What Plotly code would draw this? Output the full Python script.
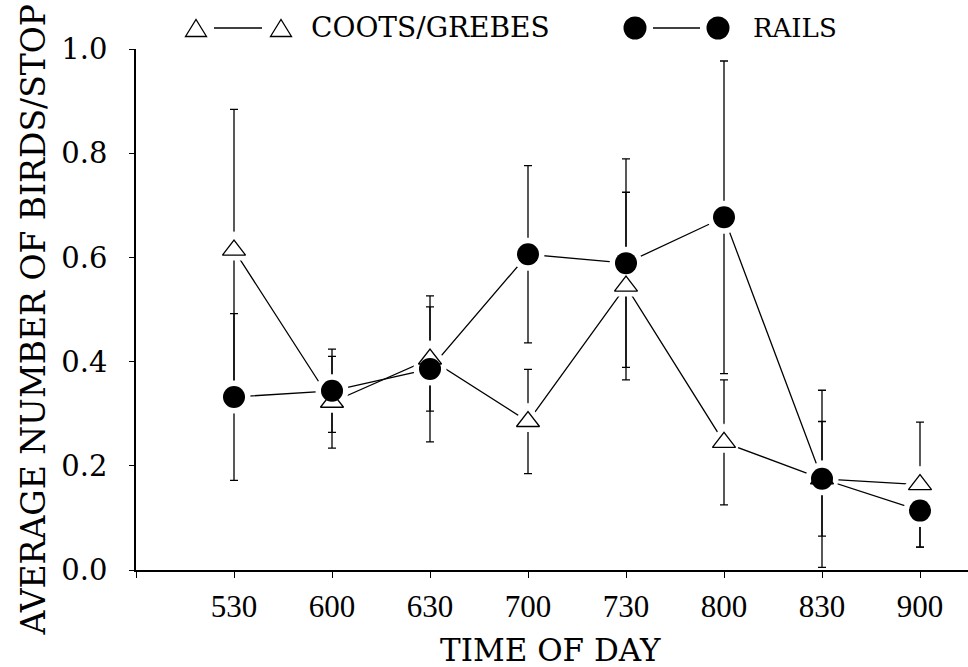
import plotly.graph_objects as go

# ---- data ----
times = ["530", "600", "630", "700", "730", "800", "830", "900"]
coots = [0.614, 0.322, 0.405, 0.285, 0.545, 0.245, 0.175, 0.164]
coots_err = [0.27, 0.088, 0.10, 0.10, 0.18, 0.12, 0.11, 0.12]
rails = [0.332, 0.344, 0.386, 0.606, 0.589, 0.677, 0.175, 0.114]
rails_err = [0.16, 0.08, 0.14, 0.17, 0.20, 0.30, 0.17, 0.07]
y_ticks = [0.0, 0.2, 0.4, 0.6, 0.8, 1.0]

xpos = list(range(1, len(times) + 1))

W, H = 968, 667
L, R, T, B = 136, 0, 49, 97
FONT = "Liberation Serif"
TFONT = "DejaVu Serif"
LW = 1.3

fig = go.Figure()

err_style = dict(type="data", visible=True, thickness=LW, width=4, color="black")

# lines + error bars
fig.add_trace(go.Scatter(x=xpos, y=coots, mode="lines",
                         line=dict(color="black", width=LW),
                         error_y=dict(array=coots_err, **err_style),
                         showlegend=False, hoverinfo="skip"))
fig.add_trace(go.Scatter(x=xpos, y=rails, mode="lines",
                         line=dict(color="black", width=LW),
                         error_y=dict(array=rails_err, **err_style),
                         showlegend=False, hoverinfo="skip"))

# white halos to create gaps around markers
fig.add_trace(go.Scatter(x=xpos, y=coots, mode="markers",
                         marker=dict(symbol="triangle-up", size=20, color="white",
                                     line=dict(color="white", width=11)),
                         showlegend=False, hoverinfo="skip"))
fig.add_trace(go.Scatter(x=xpos, y=rails, mode="markers",
                         marker=dict(symbol="circle", size=22, color="white",
                                     line=dict(color="white", width=11)),
                         showlegend=False, hoverinfo="skip"))

# markers
fig.add_trace(go.Scatter(x=xpos, y=coots, mode="markers", name="COOTS/GREBES",
                         marker=dict(symbol="triangle-up", size=20, color="white",
                                     line=dict(color="black", width=1.3)),
                         showlegend=False))
fig.add_trace(go.Scatter(x=xpos, y=rails, mode="markers", name="RAILS",
                         marker=dict(symbol="circle", size=22, color="black",
                                     line=dict(color="black", width=0)),
                         showlegend=False))

# ---- custom legend (pixel -> paper helpers) ----
def px(xp):
    return (xp - L) / (W - L - R)

def py(yp):
    return (H - B - yp) / (H - B - T)

shapes = []
ly = 28

def tri(cx, cy, w=21, h=17):
    return dict(type="path", xref="paper", yref="paper",
                path=f"M {px(cx - w/2)} {py(cy + h/2)} L {px(cx + w/2)} {py(cy + h/2)} L {px(cx)} {py(cy - h/2)} Z",
                line=dict(color="black", width=1.3), fillcolor="white")

def circ(cx, cy, r=11.5):
    return dict(type="circle", xref="paper", yref="paper",
                x0=px(cx - r), x1=px(cx + r), y0=py(cy + r), y1=py(cy - r),
                line=dict(color="black", width=0), fillcolor="black")

def hline(x0, x1, y):
    return dict(type="line", xref="paper", yref="paper",
                x0=px(x0), x1=px(x1), y0=py(y), y1=py(y),
                line=dict(color="black", width=LW))

shapes += [tri(196, ly), hline(214, 262, ly), tri(281, ly),
           circ(635, ly), hline(653, 700, ly), circ(718, ly)]

annotations = [
    dict(text="COOTS/GREBES", x=px(309), y=py(ly), xref="paper", yref="paper",
         xanchor="left", yanchor="middle", showarrow=False,
         font=dict(family=TFONT, size=28, color="black")),
    dict(text="RAILS", x=px(751), y=py(ly), xref="paper", yref="paper",
         xanchor="left", yanchor="middle", showarrow=False,
         font=dict(family=TFONT, size=26, color="black")),
    dict(text="AVERAGE NUMBER OF BIRDS/STOP", x=0, y=0.5, xref="paper", yref="paper",
         xanchor="center", yanchor="middle", xshift=-(L - 33), yshift=-10,
         textangle=-90, showarrow=False,
         font=dict(family=TFONT, size=33, color="black")),
    dict(text="TIME OF DAY", x=0.5, y=0, xref="paper", yref="paper",
         xanchor="center", yanchor="middle", yshift=-80, xshift=-2, showarrow=False,
         font=dict(family=TFONT, size=31, color="black")),
]

fig.update_layout(
    width=W, height=H,
    margin=dict(l=L, r=R, t=T, b=B, pad=0),
    paper_bgcolor="white", plot_bgcolor="white",
    shapes=shapes, annotations=annotations,
    showlegend=False,
)

fig.update_xaxes(
    range=[0, (W - L) / 98.0], tickmode="array",
    tickvals=[0] + xpos, ticktext=[""] + times,
    ticks="outside", ticklen=6, tickwidth=1.3, tickcolor="black",
    showline=True, linecolor="black", linewidth=1.5,
    showgrid=False, zeroline=False,
    tickfont=dict(family=FONT, size=31, color="black"),
    ticklabelstandoff=2,
)
fig.update_yaxes(
    range=[0, 1.0], tickmode="array", tickvals=y_ticks,
    ticktext=[f"{v:.1f}" for v in y_ticks],
    ticks="outside", ticklen=5, tickwidth=1.3, tickcolor="black",
    showline=True, linecolor="black", linewidth=1.5,
    showgrid=False, zeroline=False,
    tickfont=dict(family=TFONT, size=29, color="black"),
    ticklabelstandoff=16,
)

fig.write_html(
    "out.html",
    config={"displayModeBar": False},
    post_script="document.body.style.margin='0';document.body.style.padding='0';"
                "document.body.style.overflow='hidden';",
)
